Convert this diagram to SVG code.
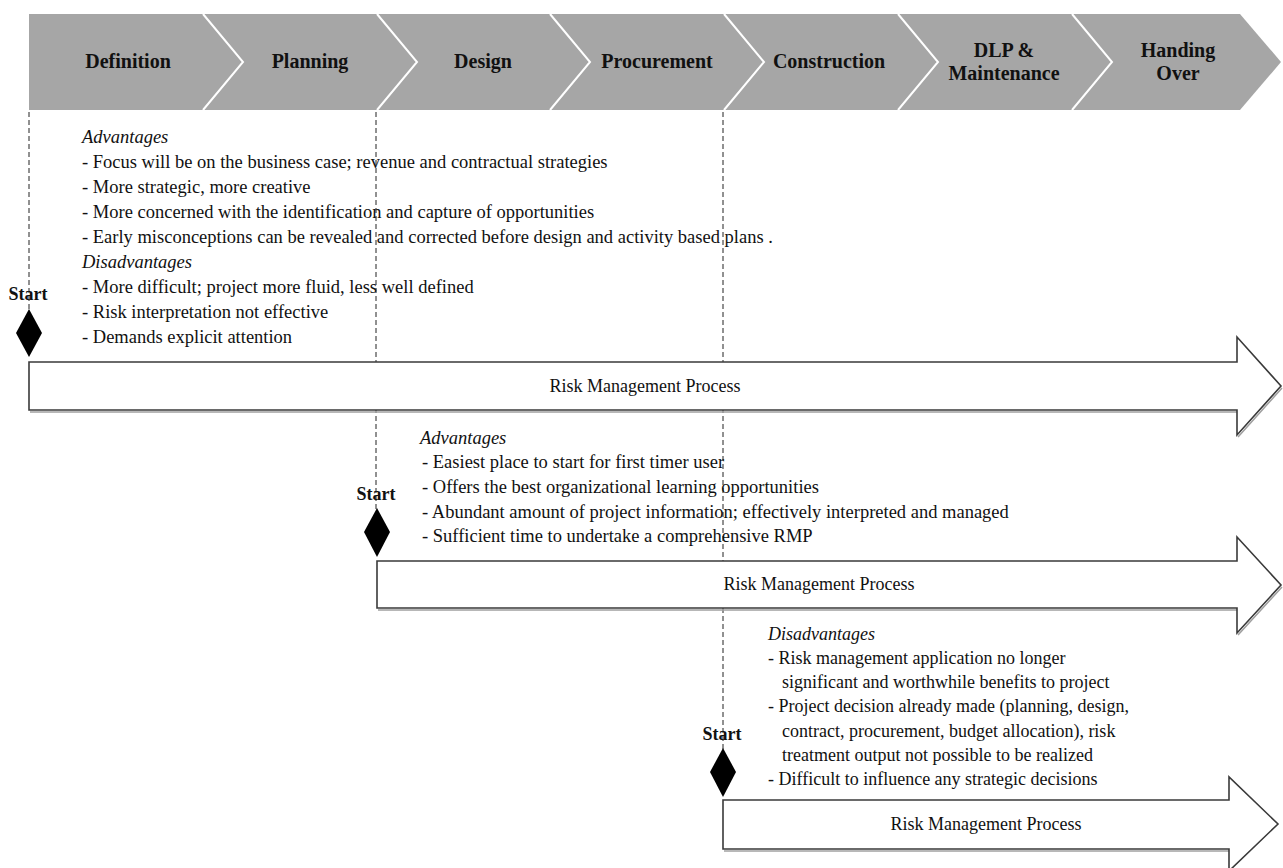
<svg xmlns="http://www.w3.org/2000/svg" width="1283" height="868" viewBox="0 0 1283 868">
  <style>
    .phase { fill: #a6a6a6; }
    .sep { fill: none; stroke: #ffffff; stroke-width: 2; }
    .ph { font-family: "Liberation Serif", "Times New Roman", serif; font-weight: bold; font-size: 20px; fill: #111; text-anchor: middle; }
    .txt { font-family: "Liberation Serif", "Times New Roman", serif; font-size: 18px; fill: #111; }
    .big { font-size: 18.5px; }
    .hd { font-style: italic; }
    .start { font-family: "Liberation Serif", "Times New Roman", serif; font-weight: bold; font-size: 18px; fill: #111; text-anchor: middle; }
    .guide { fill: none; stroke: #222; stroke-width: 1; stroke-dasharray: 5 3; }
    .arrow { fill: #ffffff; stroke: #3a3a3a; stroke-width: 1.6; stroke-linejoin: miter; }
    .shadow { fill: none; stroke: #a0a0a0; stroke-width: 1.6; }
    .diamond { fill: #000; }
    .rmp { font-family: "Liberation Serif", "Times New Roman", serif; font-size: 18px; fill: #111; text-anchor: middle; }
  </style>

  <!-- phase banner -->
  <g id="phases">
    <path class="phase" d="M29,14 H1240 L1281,62 L1240,110 H29 Z"/>
    <path class="sep" d="M203,14 L243,62 L203,110"/>
    <path class="sep" d="M377,14 L417,62 L377,110"/>
    <path class="sep" d="M550,14 L590,62 L550,110"/>
    <path class="sep" d="M724,14 L764,62 L724,110"/>
    <path class="sep" d="M898,14 L938,62 L898,110"/>
    <path class="sep" d="M1072,14 L1112,62 L1072,110"/>
    <text class="ph" x="128" y="68">Definition</text>
    <text class="ph" x="310" y="68">Planning</text>
    <text class="ph" x="483" y="68">Design</text>
    <text class="ph" x="657" y="68">Procurement</text>
    <text class="ph" x="829" y="68">Construction</text>
    <text class="ph" x="1004" y="57">DLP &amp;</text>
    <text class="ph" x="1004" y="80">Maintenance</text>
    <text class="ph" x="1178" y="57">Handing</text>
    <text class="ph" x="1178" y="80">Over</text>
  </g>

  <!-- dashed phase guides -->
  <g id="connectors">
    <line class="guide" x1="29" y1="112" x2="29" y2="310"/>
    <line class="guide" x1="376" y1="112" x2="376" y2="509"/>
    <line class="guide" x1="723" y1="112" x2="723" y2="749"/>
  </g>

  <!-- start at definition -->
  <g id="notes-definition">
    <text class="txt big hd" x="82" y="143">Advantages</text>
    <text class="txt big" x="82" y="168">- Focus will be on the business case; revenue and contractual strategies</text>
    <text class="txt big" x="82" y="193">- More strategic, more creative</text>
    <text class="txt big" x="82" y="218">- More concerned with the identification and capture of opportunities</text>
    <text class="txt big" x="82" y="243">- Early misconceptions can be revealed and corrected before design and activity based plans .</text>
    <text class="txt big hd" x="82" y="268">Disadvantages</text>
    <text class="txt big" x="82" y="293">- More difficult; project more fluid, less well defined</text>
    <text class="txt big" x="82" y="318">- Risk interpretation not effective</text>
    <text class="txt big" x="82" y="343">- Demands explicit attention</text>
  </g>
  <g id="start-definition">
    <text class="start" x="28" y="300">Start</text>
    <path class="diamond" d="M29,309 L42,333 L29,357 L16,333 Z"/>
  </g>
  <g id="rmp-definition">
    <path class="shadow" d="M30,412 H1238 M1238,437 L1282,388"/>
    <path class="arrow" d="M29,362 H1237 V337 L1281,386 L1237,435 V410 H29 Z"/>
    <text class="rmp" x="645" y="392">Risk Management Process</text>
  </g>

  <!-- start at design -->
  <g id="notes-design">
    <text class="txt big hd" x="420" y="444">Advantages</text>
    <text class="txt big" x="422" y="468">- Easiest place to start for first timer user</text>
    <text class="txt big" x="422" y="493">- Offers the best organizational learning opportunities</text>
    <text class="txt big" x="422" y="518">- Abundant amount of project information; effectively interpreted and managed</text>
    <text class="txt big" x="422" y="542">- Sufficient time to undertake a comprehensive RMP</text>
  </g>
  <g id="start-design">
    <text class="start" x="376" y="500">Start</text>
    <path class="diamond" d="M377,508 L390,532 L377,557 L364,532 Z"/>
  </g>
  <g id="rmp-design">
    <path class="shadow" d="M378,610 H1238 M1238,635 L1282,587"/>
    <path class="arrow" d="M377,561 H1237 V537 L1281,585 L1237,633 V608 H377 Z"/>
    <text class="rmp" x="819" y="590">Risk Management Process</text>
  </g>

  <!-- start at construction -->
  <g id="notes-construction">
    <text class="txt hd" x="768" y="640">Disadvantages</text>
    <text class="txt" x="768" y="664">- Risk management application no longer</text>
    <text class="txt" x="782" y="688">significant and worthwhile benefits to project</text>
    <text class="txt" x="768" y="712">- Project decision already made (planning, design,</text>
    <text class="txt" x="782" y="737">contract, procurement, budget allocation), risk</text>
    <text class="txt" x="782" y="761">treatment output not possible to be realized</text>
    <text class="txt" x="768" y="785">- Difficult to influence any strategic decisions</text>
  </g>
  <g id="start-construction">
    <text class="start" x="722" y="740">Start</text>
    <path class="diamond" d="M723,748 L736,772 L723,797 L710,772 Z"/>
  </g>
  <g id="rmp-construction">
    <path class="shadow" d="M724,851 H1230"/>
    <path class="arrow" d="M723,800 H1229 V777 L1278,824 L1229,871 V849 H723 Z"/>
    <text class="rmp" x="986" y="830">Risk Management Process</text>
  </g>
</svg>
